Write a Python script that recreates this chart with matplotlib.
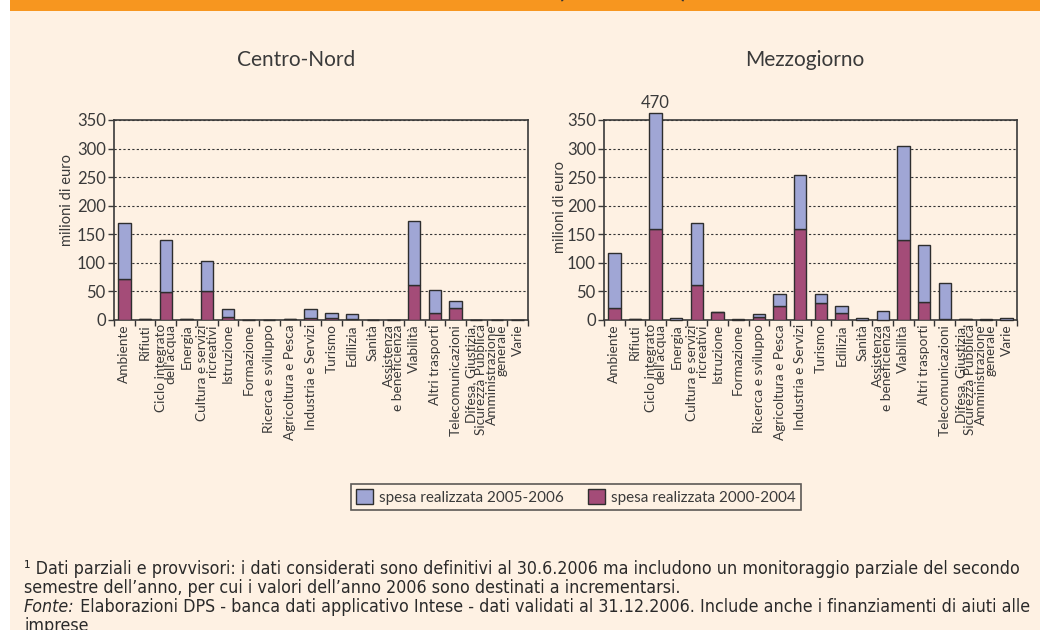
import numpy as np
import matplotlib
matplotlib.use("Agg")
import matplotlib.pyplot as plt
from matplotlib.patches import Patch, Rectangle

# ---- data (milioni di euro) ----
categories = [
    "Ambiente", "Rifiuti", "Ciclo integrato\ndell'acqua", "Energia",
    "Cultura e servizi\nricreativi", "Istruzione", "Formazione",
    "Ricerca e sviluppo", "Agricoltura e Pesca", "Industria e Servizi",
    "Turismo", "Edilizia", "Sanità", "Assistenza\ne beneficienza",
    "Viabilità", "Altri trasporti", "Telecomunicazioni",
    "Difesa, Giustizia,\nSicurezza Pubblica", "Amministrazione\ngenerale", "Varie",
]

cn_2000_2004 = [72, 1, 49, 1, 51, 5, 0, 0, 2, 4, 4, 2, 0, 0, 62, 13, 21, 0, 0, 0]
cn_2005_2006 = [97, 1, 91, 0.5, 52, 14, 0, 0, 0, 15, 9, 8, 0, 0, 111, 39, 12, 0, 0, 0]

mz_2000_2004 = [21, 1, 159, 0.5, 62, 13.5, 0.5, 5, 25, 160, 30, 12, 0, 0.5, 140, 32, 2, 1, 0.5, 0.5]
mz_2005_2006 = [97, 0.5, 311, 3.5, 107, 0, 0.5, 5, 21, 93, 16, 12, 4, 16, 164, 100, 63, 1.5, 0.5, 3]

legend_labels = ["spesa realizzata 2005-2006", "spesa realizzata 2000-2004"]

footnote_1 = ("¹ Dati parziali e provvisori: i dati considerati sono definitivi al 30.6.2006 "
              "ma includono un monitoraggio parziale del secondo")
footnote_2 = "semestre dell’anno, per cui i valori dell’anno 2006 sono destinati a incrementarsi."
footnote_3 = (" Elaborazioni DPS - banca dati applicativo Intese - dati validati al 31.12.2006. "
              "Include anche i finanziamenti di aiuti alle")
footnote_4 = "imprese"

BLUE = "#a0a6d5"
RED = "#a44c78"
EDGE = "#2e2e2e"
CREAM = "#fef1e3"
ORANGE = "#f7961f"
TXT = "#3a3a3a"
W, H = 1040, 630
CAP = 362  # bars taller than the axis are cut here and labelled

plt.rcParams["font.family"] = ["Lato", "DejaVu Sans"]
plt.rcParams["text.color"] = TXT

fig = plt.figure(figsize=(10.4, 6.3), dpi=100)
fig.patch.set_facecolor("white")
fig.add_artist(Rectangle((10 / W, 0), 1 - 10 / W, 1, transform=fig.transFigure,
                         facecolor=CREAM, edgecolor="none", zorder=-10))
fig.add_artist(Rectangle((10 / W, 1 - 11 / H), 1 - 10 / W, 11 / H, transform=fig.transFigure,
                         facecolor=ORANGE, edgecolor="none", zorder=-9))
# cut-off heading of the figure: only the bottom of the brackets shows
fig.text(622 / W, 1 + 3 / H, "(2000-2006¹)", ha="center", va="baseline", fontsize=16,
         color="#333333", weight="bold")


def draw_panel(rect, old, new, title, title_x):
    ax = fig.add_axes(rect)
    ax.set_facecolor("none")
    x = np.arange(len(categories))
    old = np.array(old, dtype=float)
    new = np.array(new, dtype=float)
    total = old + new
    shown_new = np.minimum(total, CAP) - old
    ax.bar(x, old, width=0.6, color=RED, edgecolor=EDGE, linewidth=1, zorder=3)
    ax.bar(x, shown_new, bottom=old, width=0.6, color=BLUE, edgecolor=EDGE,
           linewidth=1, zorder=3, clip_on=False)
    for xi, t in zip(x, total):
        if t > CAP:
            ax.text(xi, CAP + 3, f"{t:.0f}", ha="center", va="bottom", fontsize=12)
    ax.set_xlim(-0.5, len(categories) - 0.5)
    ax.set_ylim(0, 350)
    ax.set_yticks(np.arange(0, 351, 50))
    ax.yaxis.grid(True, color="#333333", linestyle=(0, (2, 2)), linewidth=0.8, zorder=0)
    ax.set_axisbelow(True)
    ax.tick_params(axis="y", labelsize=12, colors=TXT, length=4, width=1, pad=2)
    ax.set_xticks(x)
    ax.set_xticklabels(categories, rotation=90, fontsize=9.8, color=TXT,
                       multialignment="right", linespacing=0.74)
    ax.set_xticks(np.arange(-0.5, len(categories)), minor=True)
    ax.tick_params(axis="x", which="major", length=0, pad=3)
    ax.tick_params(axis="x", which="minor", length=4, width=1, color="#333333")
    for s in ax.spines.values():
        s.set_color("#3a3a3a")
        s.set_linewidth(1.2)
    fig.text(title_x / W, 1 - 60 / H, title, ha="center", va="center", fontsize=15)
    return ax


ax1 = draw_panel([114 / W, 1 - 320 / H, 414 / W, 200 / H], cn_2000_2004, cn_2005_2006,
                 "Centro-Nord", 296)
ax2 = draw_panel([604 / W, 1 - 320 / H, 413 / W, 200 / H], mz_2000_2004, mz_2005_2006,
                 "Mezzogiorno", 805)
fig.text(67 / W, 1 - 200 / H, "milioni di euro", rotation=90, ha="center", va="center",
         fontsize=10.5)
fig.text(560 / W, 1 - 207 / H, "milioni di euro", rotation=90, ha="center", va="center",
         fontsize=10.5)

handles = [Patch(facecolor=BLUE, edgecolor=EDGE, linewidth=1),
           Patch(facecolor=RED, edgecolor=EDGE, linewidth=1)]
leg = fig.legend(handles, legend_labels, loc="center", bbox_to_anchor=(576 / W, 1 - 497 / H),
                 ncol=2, fontsize=11, frameon=True, fancybox=False, handlelength=1.1,
                 handleheight=1.1, handletextpad=0.4, columnspacing=1.6, borderpad=0.35)
leg.get_frame().set_edgecolor("#333333")
leg.get_frame().set_facecolor("none")
leg.get_frame().set_linewidth(1.2)

foot_kw = dict(fontsize=12.75, color="#2a2a2a", family=["DejaVu Sans"],
               stretch="condensed", va="baseline", ha="left")
fig.text(24 / W, 1 - 574 / H, footnote_1, **foot_kw)
fig.text(24 / W, 1 - 593 / H, footnote_2, **foot_kw)
fonte = fig.text(24 / W, 1 - 612 / H, "Fonte:", style="italic", **foot_kw)
fig.canvas.draw()
bb = fonte.get_window_extent(fig.canvas.get_renderer())
fig.text(bb.x1 / W, 1 - 612 / H, footnote_3, **foot_kw)
fig.text(24 / W, 1 - 631 / H, footnote_4, **foot_kw)

fig.savefig("out.png", dpi=100, facecolor=fig.get_facecolor())
